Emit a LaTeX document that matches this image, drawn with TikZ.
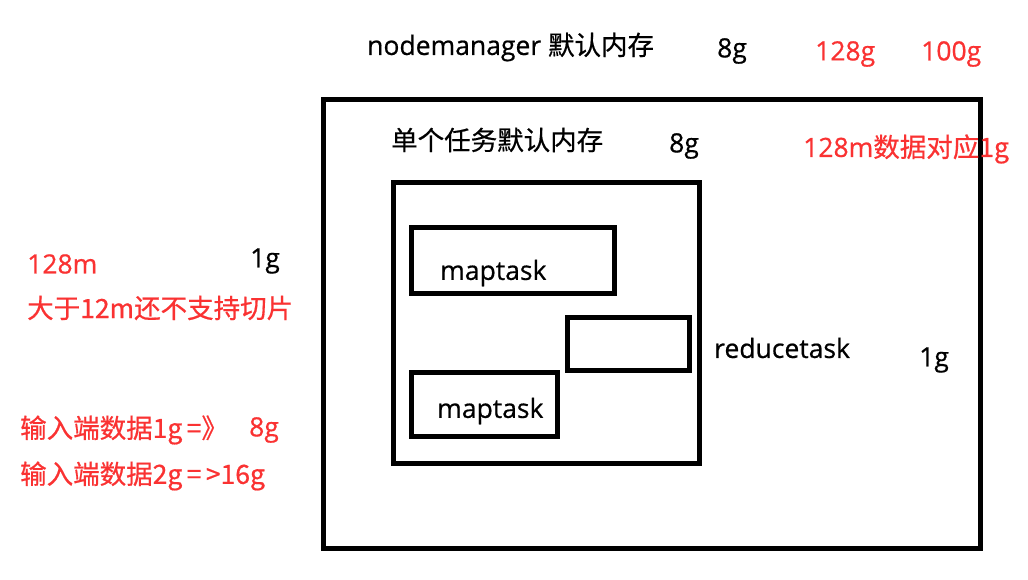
\documentclass[tikz,border=0pt]{standalone}
\usepackage{fontspec}
\setmainfont{Open Sans}[FakeBold=0.6,UprightFeatures={FakeBold=0.6}]
\newfontfamily\cjk{Noto Sans CJK SC}[UprightFeatures={FakeBold=0.6}]
\definecolor{memred}{RGB}{250,50,50}
\tikzset{
  box/.style={black,line width=5pt},
  lbl/.style={anchor=west,inner sep=0pt,font=\fontsize{26.5}{30}\selectfont},
  redlbl/.style={lbl,text=memred}
}
\begin{document}
\begin{tikzpicture}[x=1pt,y=-1pt]
\useasboundingbox[fill=white] (0,0) rectangle (1028,580);
\draw[box] (323,100) rectangle (980,548);
\draw[box] (393,183) rectangle (699,463);
\draw[box] (411,228) rectangle (614,293);
\draw[box] (567,317) rectangle (689,370);
\draw[box] (411,372) rectangle (557,436);

\node[lbl](nm) at (367,47) {nodemanager \cjk{默认内存}};
\node[lbl](nm8) at (717,51) {8g};
\node[redlbl](r128g) at (815,54) {128g};
\node[redlbl](r100g) at (921,54) {100g};
\node[lbl](task) at (391,140) {\cjk{单个任务默认内存}};
\node[lbl](task8) at (669,146) {8g};
\node[redlbl](blk) at (803,149) {128m\cjk{数据对应}1g};
\node[redlbl](m128) at (27,264) {128m};
\node[lbl](g1a) at (250,261) {1g};
\node[redlbl](split) at (27,308) {\cjk{大于}12m\cjk{还不支持切片}};
\node[lbl](map1) at (440,273) {maptask};
\node[lbl](reduce) at (714,348) {reducetask};
\node[lbl](g1b) at (919,360) {1g};
\node[lbl](map2) at (437,411) {maptask};
\node[redlbl](in1) at (20,430) {\cjk{输入端数据}1g\,=\cjk{》}};
\node[redlbl](in1g) at (249,430) {8g};
\node[redlbl](in2) at (20,476) {\cjk{输入端数据}2g\,=\,>16g};
\end{tikzpicture}
\end{document}
